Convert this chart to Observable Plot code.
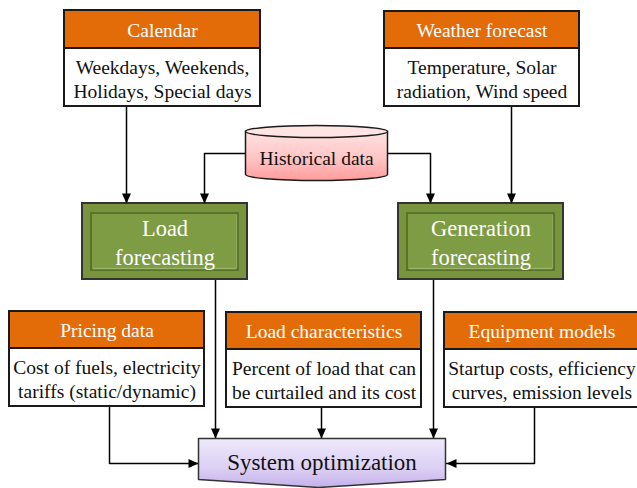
<!DOCTYPE html>
<html><head><meta charset="utf-8">
<script src="https://cdn.jsdelivr.net/npm/d3@7"></script>
<script src="https://cdn.jsdelivr.net/npm/@observablehq/plot@0.6"></script>
<style>body{margin:0;background:#fff}#chart svg{display:block}</style>
</head><body><div id="chart"></div>
<script>
// ---- content ----
const inputTitles = ["Calendar", "Weather forecast", "Pricing data", "Load characteristics", "Equipment models"];
const inputDetails = [
  "Weekdays, Weekends,\nHolidays, Special days",
  "Temperature, Solar\nradiation, Wind speed",
  "Cost of fuels, electricity\ntariffs (static/dynamic)",
  "Percent of load that can\nbe curtailed and its cost",
  "Startup costs, efficiency\ncurves, emission levels"
];
const processNames = ["Load\nforecasting", "Generation\nforecasting"];
const storeName = "Historical data";
const outputName = "System optimization";
const edgeFrom = ["Calendar", "Historical data", "Historical data", "Weather forecast", "Load forecasting", "Generation forecasting", "Pricing data", "Load characteristics", "Equipment models"];
const edgeTo = ["Load forecasting", "Load forecasting", "Generation forecasting", "Generation forecasting", "System optimization", "System optimization", "System optimization", "System optimization", "System optimization"];

// ---- layout (pixel space of the diagram) ----
const inputLeft = [64, 384, 9, 226, 444];
const inputRight = [260, 579, 204, 421, 639];
const inputTop = [10, 11, 311, 312, 312];
const inputHeadBottom = [48, 48, 348, 349, 349];
const inputBottom = [106, 106, 406, 407, 407];
const processLeft = [82, 398];
const processRight = [247, 563];
const processTop = [203, 203];
const processBottom = [279, 279];
const storeCenter = [316, 152.5];
const outputOutline = [[198, 438], [445, 438], [445, 479], [318, 487], [198, 479]];
const edgeRoutes = [
  [[126, 106], [126, 203]],
  [[245, 153], [204, 153], [204, 203]],
  [[387, 153], [430, 153], [430, 203]],
  [[511, 106], [511, 203]],
  [[215, 279], [215, 438]],
  [[433, 279], [433, 438]],
  [[109, 406], [109, 463], [198, 463]],
  [[321, 407], [321, 438]],
  [[534, 407], [534, 463], [446, 463]]
];

// ---- tables ----
const inputs = inputTitles.map((t, i) => ({
  title: t, detail: inputDetails[i],
  x1: inputLeft[i], x2: inputRight[i], y1: inputTop[i], yh: inputHeadBottom[i], y2: inputBottom[i]
}));
const processes = processNames.map((n, i) => ({
  name: n, x1: processLeft[i], x2: processRight[i], y1: processTop[i], y2: processBottom[i]
}));
const edgePoints = edgeRoutes.flatMap((r, i) => r.map(([x, y]) => ({edge: edgeFrom[i] + "→" + edgeTo[i], x, y})));
const heads = edgeRoutes.map((r, i) => {
  const [a, b] = r.slice(-2);
  const rot = b[1] > a[1] ? 0 : b[1] < a[1] ? 180 : b[0] > a[0] ? -90 : 90;
  return {x: b[0], y: b[1], rotate: rot, edge: edgeFrom[i] + "→" + edgeTo[i]};
});
const outputPts = outputOutline.map(([x, y]) => ({x, y}));

// ---- custom symbols ----
const K = 0.5523;
const arrowHead = {draw(ctx) { ctx.moveTo(0, 0); ctx.lineTo(-4.5, -10); ctx.lineTo(4.5, -10); ctx.closePath(); }};
function ellipseSym(rx, ry, oy) {
  return {draw(ctx) {
    ctx.moveTo(-rx, oy);
    ctx.bezierCurveTo(-rx, oy - ry * K, -rx * K, oy - ry, 0, oy - ry);
    ctx.bezierCurveTo(rx * K, oy - ry, rx, oy - ry * K, rx, oy);
    ctx.bezierCurveTo(rx, oy + ry * K, rx * K, oy + ry, 0, oy + ry);
    ctx.bezierCurveTo(-rx * K, oy + ry, -rx, oy + ry * K, -rx, oy);
    ctx.closePath();
  }};
}
function cylBody(rx, ry, h) {
  const t = -h / 2, b = h / 2;
  return {draw(ctx) {
    ctx.moveTo(-rx, t);
    ctx.lineTo(-rx, b);
    ctx.bezierCurveTo(-rx, b + ry * K, -rx * K, b + ry, 0, b + ry);
    ctx.bezierCurveTo(rx * K, b + ry, rx, b + ry * K, rx, b);
    ctx.lineTo(rx, t);
    ctx.closePath();
  }};
}

const serif = "'Liberation Serif', 'Times New Roman', serif";
const store = [{x: storeCenter[0], y: storeCenter[1], name: storeName}];

const chart = Plot.plot({
  width: 637, height: 488, margin: 0,
  x: {domain: [0, 637], range: [0, 637], axis: null},
  y: {domain: [0, 488], range: [0, 488], axis: null},
  style: {background: "#fff"},
  marks: [
    // connectors
    Plot.line(edgePoints, {x: "x", y: "y", z: "edge", stroke: "#000", strokeWidth: 1.5}),
    // input boxes
    Plot.rect(inputs, {x1: "x1", x2: "x2", y1: "y1", y2: "y2", fill: "#fff", stroke: "#1a1a1a", strokeWidth: 2}),
    Plot.rect(inputs, {x1: "x1", x2: "x2", y1: "y1", y2: "yh", fill: "#E36C09", stroke: "#1a1a1a", strokeWidth: 2}),
    Plot.text(inputs, {x: d => (d.x1 + d.x2) / 2, y: d => (d.y1 + d.yh) / 2 + 1, text: "title", fill: "#fff", fontSize: 19.5, fontFamily: serif}),
    Plot.text(inputs, {x: d => (d.x1 + d.x2) / 2, y: d => (d.yh + d.y2) / 2 + 1, text: "detail", fill: "#111", fontSize: 19.5, lineHeight: 1.2, fontFamily: serif}),
    // process boxes
    Plot.rect(processes, {x1: "x1", x2: "x2", y1: "y1", y2: "y2", fill: "#78953D", stroke: "#333", strokeWidth: 2}),
    Plot.rect(processes, {x1: d => d.x1 + 9, x2: d => d.x2 - 9, y1: d => d.y1 + 10, y2: d => d.y2 - 9, fill: "#7D9C43", stroke: "#5A732B", strokeWidth: 2}),
    Plot.ruleY(processes, {x1: d => d.x1 + 11, x2: d => d.x2 - 11, y: d => d.y2 - 11, stroke: "#98B468", strokeWidth: 1.5}),
    Plot.ruleX(processes, {x: d => d.x2 - 11, y1: d => d.y1 + 12, y2: d => d.y2 - 11, stroke: "#8EAA5C", strokeWidth: 1.2}),
    Plot.text(processes, {x: d => (d.x1 + d.x2) / 2, y: d => (d.y1 + d.y2) / 2 - 0.5, text: "name", fill: "#fff", fontSize: 22.5, lineHeight: 1.29, fontFamily: serif}),
    // data store cylinder
    Plot.dot(store, {x: "x", y: "y", symbol: cylBody(71, 6, 43), fill: "url(#pinkGrad)", stroke: "#1a1a1a", strokeWidth: 1.5}),
    Plot.dot(store, {x: "x", y: "y", symbol: ellipseSym(71, 6, -21.5), fill: "#FFE4E4", stroke: "#1a1a1a", strokeWidth: 1.5}),
    Plot.text(store, {x: "x", y: d => d.y + 6, text: "name", fill: "#111", fontSize: 19.5, fontFamily: serif}),
    // output
    Plot.line(outputPts, {x: "x", y: "y", curve: "linear-closed", fill: "url(#purpleGrad)", stroke: "#333", strokeWidth: 1.5}),
    Plot.text([outputName], {x: 321.5, y: 462, text: d => d, fill: "#111", fontSize: 23, fontFamily: serif}),
    // arrowheads
    Plot.dot(heads, {x: "x", y: "y", rotate: "rotate", symbol: arrowHead, fill: "#000", stroke: "none"})
  ]
});

const ns = "http://www.w3.org/2000/svg";
const defs = document.createElementNS(ns, "defs");
function grad(id, stops) {
  const g = document.createElementNS(ns, "linearGradient");
  g.setAttribute("id", id); g.setAttribute("x1", "0"); g.setAttribute("y1", "0"); g.setAttribute("x2", "0"); g.setAttribute("y2", "1");
  stops.forEach(([o, c]) => { const s = document.createElementNS(ns, "stop"); s.setAttribute("offset", o); s.setAttribute("stop-color", c); g.appendChild(s); });
  defs.appendChild(g);
}
grad("pinkGrad", [["0", "#FFE2E2"], ["0.55", "#FFC4C4"], ["1", "#FF9C9C"]]);
grad("purpleGrad", [["0", "#EEE9FB"], ["0.6", "#DCD0F4"], ["1", "#C4B1EA"]]);
chart.insertBefore(defs, chart.firstChild);
document.getElementById("chart").appendChild(chart);
</script></body></html>
